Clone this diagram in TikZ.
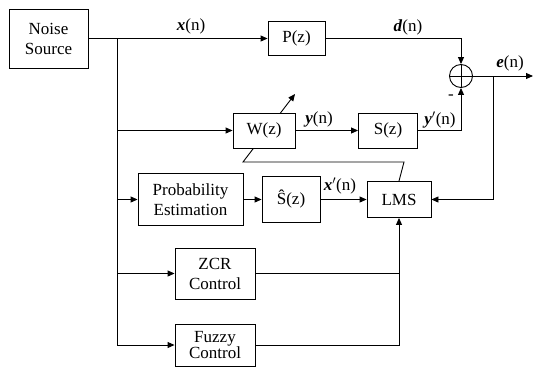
\documentclass[tikz,border=0pt]{standalone}
\usepackage{fontspec}
\setmainfont{Liberation Serif}
\usetikzlibrary{arrows.meta,backgrounds}
\newcommand{\bv}[1]{\textbf{\textit{#1}}}
\begin{document}
\begin{tikzpicture}[x=1pt,y=-1pt,
  blk/.style={draw,line width=0.9pt,fill=white,inner sep=0pt,
    font=\fontsize{17}{20}\selectfont,align=center},
  lbl/.style={font=\fontsize{17}{20}\selectfont,inner sep=0pt},
  wire/.style={line width=0.9pt},
  arr/.style={wire,-{Triangle[length=7pt,width=6pt]}}]
\useasboundingbox (0,0) rectangle (533,367);

% blocks
\node[blk,minimum width=79pt,minimum height=59pt] (noise) at (48.5,38.5) {Noise\\Source};
\node[blk,minimum width=57pt,minimum height=34pt] (pz) at (296.5,38.5) {P(z)};
\node[blk,minimum width=62pt,minimum height=35pt] (wz) at (264,130.5) {W(z)};
\node[blk,minimum width=59pt,minimum height=35pt] (sz) at (388,130.5) {S(z)};
\node[blk,minimum width=64pt,minimum height=36pt] (lms) at (399,199.5) {LMS};
\node[blk,minimum width=58pt,minimum height=46pt] (shat) at (291,199.5) {\^S(z)};
\node[blk,minimum width=105pt,minimum height=52pt] (prob) at (190.5,199.5) {Probability\\Estimation};
\node[blk,minimum width=80pt,minimum height=51pt] (zcr) at (215,273.5) {ZCR\\Control};
\node[blk,minimum width=80pt,minimum height=42pt,font=\fontsize{17}{14}\selectfont] (fuzzy) at (215,345) {Fuzzy\\Control};
\node[draw,circle,line width=0.9pt,minimum size=23pt,inner sep=0pt] (sum) at (461,76) {};
\draw[wire] (sum.north) -- (sum.south) (sum.west) -- (sum.east);

% helper points
\coordinate (b0) at (117,38.5);
\coordinate (b1) at (117,345);
\coordinate (eb) at (493,76);
\coordinate (eout) at (533,76);
\coordinate (k1) at (404,162);
\coordinate (k2) at (243,162);
\coordinate (tip) at (295,94);

% reference path and branches
\draw[arr] (noise.east) -- (pz.west);
\draw[wire] (b0) -- (b1);
\draw[arr] (b0 |- wz.west) -- (wz.west);
\draw[arr] (b0 |- prob.west) -- (prob.west);
\draw[arr] (b0 |- zcr.west) -- (zcr.west);
\draw[arr] (b1) -- (fuzzy.west);
\draw[arr] (prob.east) -- (shat.west);
\draw[arr] (shat.east) -- (lms.west);
\draw[arr] (wz.east) -- (sz.west);
\draw[arr] (pz.east) -| (sum.north);
\draw[arr] (sz.east) -| (sum.south);
\draw[arr] (sum.east) -- (eout);
\draw[arr] (eb) |- (lms.east);
\draw[wire] (zcr.east) -- (zcr.east -| lms.south);
\draw[arr] (fuzzy.east) -| (lms.south);

% adaptation path from LMS through W(z)
\begin{scope}[on background layer]
  \draw[arr] (lms.north) -- (k1) -- (k2) -- (tip);
\end{scope}

% signal labels
\node[lbl] (lx) at (191,26) {\bv{x}(n)};
\node[lbl] (ld) at (408,27) {\bv{d}(n)};
\node[lbl] (le) at (510,63) {\bv{e}(n)};
\node[lbl] (ly) at (319,119) {\bv{y}(n)};
\node[lbl] (lyp) at (440,120) {\bv{y}$'$(n)};
\node[lbl] (lxp) at (340,186) {\bv{x}$'$(n)};
\node[lbl] (lm) at (451,97) {-};
\end{tikzpicture}
\end{document}
